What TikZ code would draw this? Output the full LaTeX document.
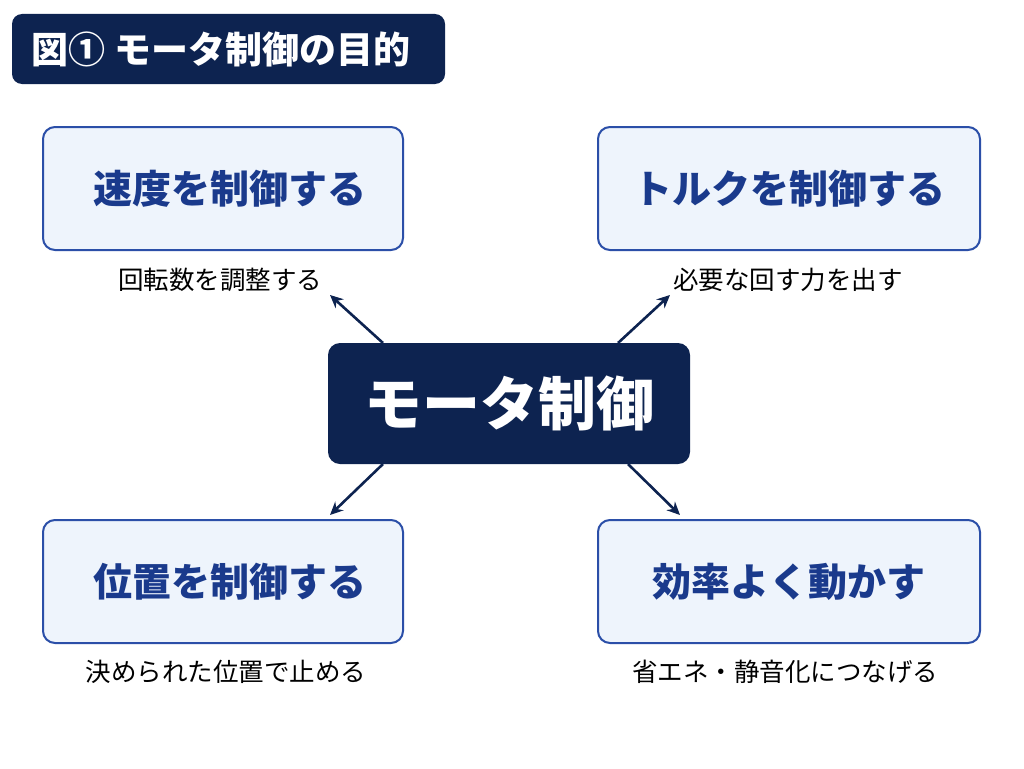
\documentclass[tikz,border=0pt]{standalone}
\usepackage{fontspec}
\setmainfont{Noto Sans CJK JP}
\usetikzlibrary{arrows.meta}
\definecolor{navy}{HTML}{0D2350}
\definecolor{bord}{HTML}{2B4FA8}
\definecolor{fillb}{HTML}{EEF4FC}
\definecolor{txtb}{HTML}{1A3A8C}
\begin{document}
\begin{tikzpicture}[x=1pt,y=-1pt,
  goal/.style={draw=bord,line width=2pt,fill=fillb,rounded corners=12pt,minimum width=360pt,minimum height=123pt,text=txtb,font=\fontsize{39}{46}\selectfont\bfseries},
  sub/.style={text=black,font=\fontsize{25.5}{30}\selectfont},
  arr/.style={draw=navy,line width=2.6pt,-{Stealth[length=13pt,width=12pt]}}]
\useasboundingbox[fill=white] (0,0) rectangle (1024,768);
\node[fill=navy,rounded corners=10pt,minimum width=433pt,minimum height=70pt] (title) at (228.5,49) {};
\node[anchor=west,text=white,font=\fontsize{37}{42}\selectfont\bfseries] (tt) at (28,49) {図① モータ制御の目的};
\node[goal,text width=340pt,align=center] (tl) at (223,188.5) {\hspace*{14pt}速度を制御する};
\node[goal,minimum width=382pt] (tr) at (789,188.5) {トルクを制御する};
\node[goal,text width=340pt,align=center] (bl) at (223,581.5) {\hspace*{14pt}位置を制御する};
\node[goal,minimum width=382pt] (br) at (789,581.5) {効率よく動かす};
\node[fill=navy,rounded corners=12pt,minimum width=362pt,minimum height=121pt,text=white,font=\fontsize{58}{66}\selectfont\bfseries] (c) at (509,403.5) {モータ制御};
\node[sub] (s1) at (220,280) {回転数を調整する};
\node[sub] (s2) at (788,280) {必要な回す力を出す};
\node[sub] (s3) at (226,672) {決められた位置で止める};
\node[sub] (s4) at (785,672) {省エネ・静音化につなげる};
\coordinate (a1) at (330,295); \coordinate (a2) at (670,295);
\coordinate (a3) at (330,515); \coordinate (a4) at (680,515);
\draw[arr] (383,343) -- (a1);
\draw[arr] (618,343) -- (a2);
\draw[arr] (383,464) -- (a3);
\draw[arr] (628,464) -- (a4);
\end{tikzpicture}
\end{document}
